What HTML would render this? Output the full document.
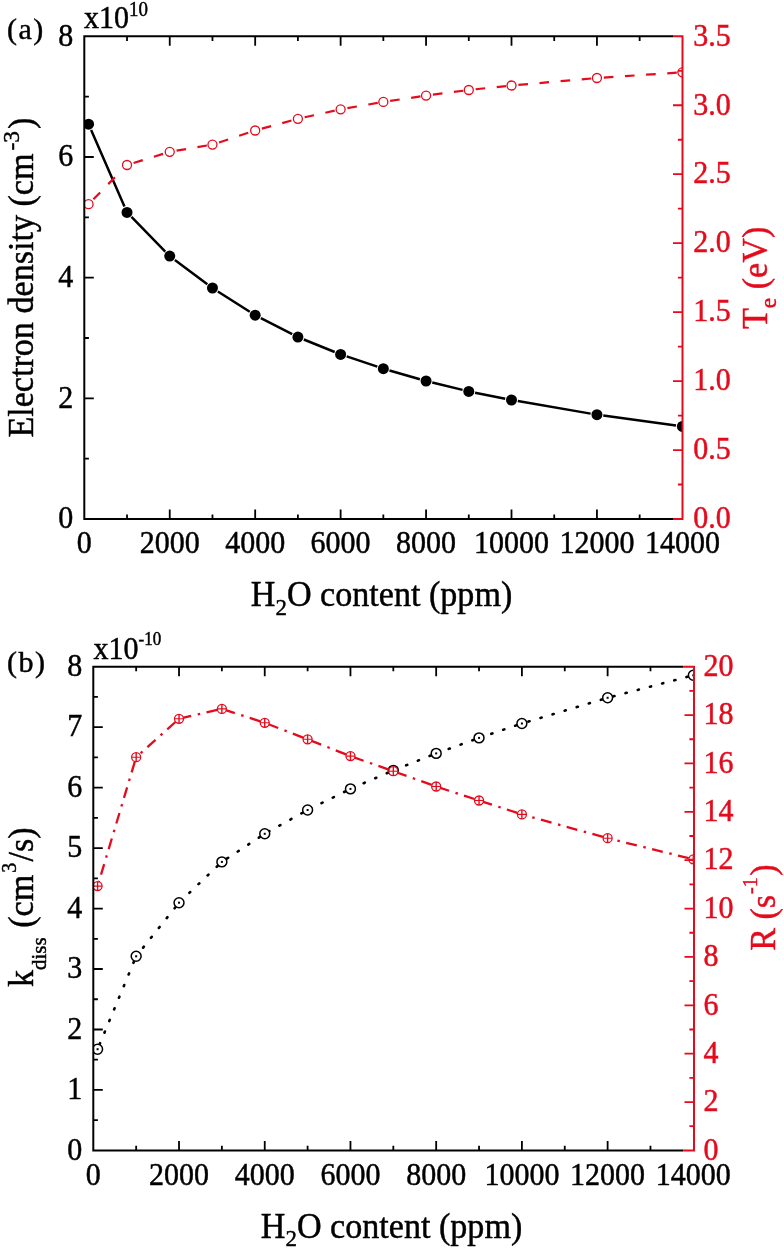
<!DOCTYPE html><html><head><meta charset="utf-8"><style>html,body{margin:0;padding:0;background:#fff;width:784px;height:1252px;overflow:hidden}svg{display:block;will-change:transform}text{stroke-width:0.45px}</style></head><body><svg width="784" height="1252" viewBox="0 0 784 1252" font-family="'Liberation Serif', serif">
<defs><clipPath id="clipA"><rect x="84.3" y="36.3" width="597.7" height="482.7"/></clipPath><clipPath id="clipB"><rect x="93.3" y="666.7" width="600.2" height="483.70000000000005"/></clipPath></defs>
<rect width="784" height="1252" fill="#fff"/>
<g clip-path="url(#clipA)">
<path d="M91.13 130.07L124.46 206.53M131.49 216.98L165.27 251.52M174.87 259.93L207.33 284.17M217.86 291.44L249.78 311.76M260.88 318.12L292.20 334.18M303.83 339.50L334.69 352.00M346.69 356.43L377.27 366.67M389.49 370.47L419.91 379.23M432.28 382.51L462.56 389.89M475.05 392.66L505.23 398.74M517.81 401.09L590.63 413.61M603.28 415.57L676.04 425.53" stroke="#000" stroke-width="2.5" fill="none"/>
<circle cx="88.57" cy="124.20" r="5.5" fill="#000"/>
<circle cx="127.02" cy="212.40" r="5.5" fill="#000"/>
<circle cx="169.74" cy="256.10" r="5.5" fill="#000"/>
<circle cx="212.46" cy="288.00" r="5.5" fill="#000"/>
<circle cx="255.18" cy="315.20" r="5.5" fill="#000"/>
<circle cx="297.90" cy="337.10" r="5.5" fill="#000"/>
<circle cx="340.62" cy="354.40" r="5.5" fill="#000"/>
<circle cx="383.34" cy="368.70" r="5.5" fill="#000"/>
<circle cx="426.06" cy="381.00" r="5.5" fill="#000"/>
<circle cx="468.78" cy="391.40" r="5.5" fill="#000"/>
<circle cx="511.50" cy="400.00" r="5.5" fill="#000"/>
<circle cx="596.94" cy="414.70" r="5.5" fill="#000"/>
<circle cx="682.38" cy="426.40" r="5.5" fill="#000"/>
<path d="M93.40 199.27L100.13 192.42M108.25 184.14L114.97 177.29M123.09 169.00L123.10 169.00M133.61 162.96L142.78 160.13M153.87 156.70L163.04 153.87M176.54 150.65L186.01 149.06M197.45 147.13L206.92 145.53M219.01 142.44L228.13 139.43M239.14 135.79L248.26 132.78M261.83 128.68L271.09 126.14M282.28 123.08L291.54 120.54M304.64 117.30L314.01 115.22M325.33 112.70L334.70 110.62M347.42 108.12L356.88 106.48M368.31 104.50L377.77 102.87M390.17 100.89L399.66 99.49M411.14 97.80L420.52 96.42M432.90 94.70L442.42 93.46M453.92 91.95L463.23 90.73M475.64 89.28L485.19 88.27M496.73 87.06L505.93 86.09M518.37 84.90L527.94 84.06M539.49 83.04L549.06 82.20M560.61 81.19L570.17 80.35M581.73 79.34L591.29 78.50M603.82 77.54L613.40 76.90M624.98 76.13L634.56 75.49M646.13 74.72L655.71 74.08M667.28 73.31L676.79 72.67" stroke="#e30b1c" stroke-width="2.2" fill="none"/>
<circle cx="88.57" cy="204.20" r="4.5" fill="#fff" stroke="#e30b1c" stroke-width="1.3"/>
<circle cx="127.02" cy="165.00" r="4.5" fill="#fff" stroke="#e30b1c" stroke-width="1.3"/>
<circle cx="169.74" cy="151.80" r="4.5" fill="#fff" stroke="#e30b1c" stroke-width="1.3"/>
<circle cx="212.46" cy="144.60" r="4.5" fill="#fff" stroke="#e30b1c" stroke-width="1.3"/>
<circle cx="255.18" cy="130.50" r="4.5" fill="#fff" stroke="#e30b1c" stroke-width="1.3"/>
<circle cx="297.90" cy="118.80" r="4.5" fill="#fff" stroke="#e30b1c" stroke-width="1.3"/>
<circle cx="340.62" cy="109.30" r="4.5" fill="#fff" stroke="#e30b1c" stroke-width="1.3"/>
<circle cx="383.34" cy="101.90" r="4.5" fill="#fff" stroke="#e30b1c" stroke-width="1.3"/>
<circle cx="426.06" cy="95.60" r="4.5" fill="#fff" stroke="#e30b1c" stroke-width="1.3"/>
<circle cx="468.78" cy="90.00" r="4.5" fill="#fff" stroke="#e30b1c" stroke-width="1.3"/>
<circle cx="511.50" cy="85.50" r="4.5" fill="#fff" stroke="#e30b1c" stroke-width="1.3"/>
<circle cx="596.94" cy="78.00" r="4.5" fill="#fff" stroke="#e30b1c" stroke-width="1.3"/>
<circle cx="682.38" cy="72.30" r="4.5" fill="#fff" stroke="#e30b1c" stroke-width="1.3"/>
</g>
<path d="M84.3 36.3V519.0M83.3 519.0H673.0M83.3 36.3H673.0" stroke="#000" stroke-width="2" fill="none"/>
<path d="M673.0 519.0H682.5V36.3H673.0" stroke="#e30b1c" stroke-width="2" fill="none"/>
<path d="M127.02 519.0V514.4M127.02 36.3V40.9M169.74 519.0V509.5M169.74 36.3V45.8M212.46 519.0V514.4M212.46 36.3V40.9M255.18 519.0V509.5M255.18 36.3V45.8M297.90 519.0V514.4M297.90 36.3V40.9M340.62 519.0V509.5M340.62 36.3V45.8M383.34 519.0V514.4M383.34 36.3V40.9M426.06 519.0V509.5M426.06 36.3V45.8M468.78 519.0V514.4M468.78 36.3V40.9M511.50 519.0V509.5M511.50 36.3V45.8M554.22 519.0V514.4M554.22 36.3V40.9M596.94 519.0V509.5M596.94 36.3V45.8M639.66 519.0V514.4M639.66 36.3V40.9" stroke="#000" stroke-width="1.8" fill="none"/>
<path d="M84.3 458.66H88.89999999999999M84.3 398.32H93.8M84.3 337.99H88.89999999999999M84.3 277.65H93.8M84.3 217.31H88.89999999999999M84.3 156.98H93.8M84.3 96.64H88.89999999999999" stroke="#000" stroke-width="1.8" fill="none"/>
<path d="M682.5 484.52H677.9M682.5 450.04H673.0M682.5 415.56H677.9M682.5 381.09H673.0M682.5 346.61H677.9M682.5 312.13H673.0M682.5 277.65H677.9M682.5 243.17H673.0M682.5 208.69H677.9M682.5 174.21H673.0M682.5 139.74H677.9M682.5 105.26H673.0M682.5 70.78H677.9" stroke="#e30b1c" stroke-width="1.8" fill="none"/>
<g clip-path="url(#clipB)">
<path d="M133.90 961.75L133.44 962.86M129.07 973.39L128.61 974.49M124.23 985.02L123.77 986.13M119.40 996.66L118.94 997.77M114.57 1008.30L114.11 1009.40M109.74 1019.93L109.28 1021.04M104.91 1031.57L104.45 1032.68M100.07 1043.21L99.61 1044.31M175.34 907.31L174.59 908.25M167.47 917.15L166.72 918.09M159.60 926.99L158.85 927.93M151.73 936.83L150.98 937.77M143.86 946.67L143.11 947.61M217.61 865.97L216.74 866.80M208.48 874.66L207.61 875.48M199.35 883.34L198.49 884.17M190.23 892.03L189.36 892.86M181.10 900.72L180.23 901.55M259.81 837.03L258.80 837.69M249.27 843.94L248.27 844.60M238.73 850.85L237.73 851.51M228.19 857.76L227.19 858.42M302.44 812.86L301.39 813.45M291.43 818.98L290.38 819.56M280.41 825.10L279.36 825.68M269.40 831.22L268.35 831.80M345.17 791.51L344.09 792.04M333.86 797.07L332.79 797.60M322.56 802.64L321.48 803.17M311.25 808.20L310.18 808.73M387.90 772.74L386.80 773.21M376.33 777.73L375.23 778.21M364.77 782.72L363.66 783.20M353.20 787.72L352.10 788.19M430.70 755.58L429.58 756.02M418.98 760.22L417.87 760.66M407.27 764.87L406.16 765.31M395.56 769.51L394.44 769.95M473.49 739.91L472.36 740.31M461.64 744.19L460.51 744.60M449.79 748.48L448.67 748.88M437.94 752.76L436.82 753.17M516.31 725.38L515.17 725.76M504.36 729.39L503.23 729.77M492.42 733.40L491.28 733.79M480.48 737.42L479.34 737.80M601.97 699.49L600.82 699.84M589.90 703.11L588.75 703.46M577.83 706.73L576.68 707.08M565.76 710.35L564.61 710.69M553.69 713.97L552.54 714.31M541.62 717.59L540.47 717.93M529.55 721.21L528.40 721.55M687.63 676.80L686.47 677.10M675.45 680.00L674.29 680.30M663.26 683.20L662.10 683.50M651.07 686.39L649.91 686.70M638.88 689.59L637.72 689.90M626.70 692.79L625.54 693.10M614.51 695.99L613.35 696.30" stroke="#000" stroke-width="2.6" stroke-linecap="round" fill="none"/>
<circle cx="97.59" cy="1049.20" r="4.95" fill="#fff" stroke="#000" stroke-width="1.5"/>
<rect x="96.59" y="1048.20" width="2" height="2" fill="#000"/>
<circle cx="136.16" cy="956.30" r="4.95" fill="#fff" stroke="#000" stroke-width="1.5"/>
<rect x="135.16" y="955.30" width="2" height="2" fill="#000"/>
<circle cx="179.02" cy="902.70" r="4.95" fill="#fff" stroke="#000" stroke-width="1.5"/>
<rect x="178.02" y="901.70" width="2" height="2" fill="#000"/>
<circle cx="221.88" cy="861.90" r="4.95" fill="#fff" stroke="#000" stroke-width="1.5"/>
<rect x="220.88" y="860.90" width="2" height="2" fill="#000"/>
<circle cx="264.74" cy="833.80" r="4.95" fill="#fff" stroke="#000" stroke-width="1.5"/>
<rect x="263.74" y="832.80" width="2" height="2" fill="#000"/>
<circle cx="307.60" cy="810.00" r="4.95" fill="#fff" stroke="#000" stroke-width="1.5"/>
<rect x="306.60" y="809.00" width="2" height="2" fill="#000"/>
<circle cx="350.46" cy="788.90" r="4.95" fill="#fff" stroke="#000" stroke-width="1.5"/>
<rect x="349.46" y="787.90" width="2" height="2" fill="#000"/>
<circle cx="393.32" cy="770.40" r="4.95" fill="#fff" stroke="#000" stroke-width="1.5"/>
<rect x="392.32" y="769.40" width="2" height="2" fill="#000"/>
<circle cx="436.18" cy="753.40" r="4.95" fill="#fff" stroke="#000" stroke-width="1.5"/>
<rect x="435.18" y="752.40" width="2" height="2" fill="#000"/>
<circle cx="479.04" cy="737.90" r="4.95" fill="#fff" stroke="#000" stroke-width="1.5"/>
<rect x="478.04" y="736.90" width="2" height="2" fill="#000"/>
<circle cx="521.90" cy="723.50" r="4.95" fill="#fff" stroke="#000" stroke-width="1.5"/>
<rect x="520.90" y="722.50" width="2" height="2" fill="#000"/>
<circle cx="607.62" cy="697.80" r="4.95" fill="#fff" stroke="#000" stroke-width="1.5"/>
<rect x="606.62" y="696.80" width="2" height="2" fill="#000"/>
<circle cx="693.34" cy="675.30" r="4.95" fill="#fff" stroke="#000" stroke-width="1.5"/>
<rect x="692.34" y="674.30" width="2" height="2" fill="#000"/>
<path d="M134.78 761.80L131.63 772.34M129.77 778.56L129.05 780.96M127.13 787.38L123.98 797.92M122.11 804.14L121.40 806.54M119.47 812.96L116.32 823.50M114.46 829.72L113.74 832.12M111.82 838.54L108.67 849.07M106.80 855.30L106.09 857.70M104.17 864.12L101.01 874.65M99.15 880.88L98.43 883.28M175.44 722.00L167.25 729.34M162.41 733.68L160.55 735.35M155.56 739.82L147.37 747.16M142.53 751.50L140.66 753.17M217.20 709.98L206.49 712.46M200.15 713.92L197.72 714.48M191.19 715.99L180.47 718.46M260.17 721.32L249.71 717.93M243.53 715.92L241.15 715.15M234.78 713.08L224.31 709.69M303.12 737.58L292.85 733.62M286.79 731.29L284.46 730.39M278.20 727.98L267.94 724.03M345.99 754.35L335.75 750.33M329.70 747.96L327.37 747.05M321.13 744.60L310.89 740.59M388.79 769.61L378.42 765.95M372.29 763.79L369.93 762.96M363.61 760.73L353.23 757.08M431.66 784.89L421.30 781.19M415.18 779.00L412.82 778.16M406.51 775.91L396.15 772.21M474.48 799.01L464.02 795.59M457.84 793.58L455.47 792.80M449.10 790.72L438.64 787.30M517.33 812.92L506.87 809.53M500.69 807.52L498.31 806.75M491.94 804.68L481.47 801.29M602.99 836.92L592.40 833.97M586.13 832.23L583.72 831.57M577.27 829.77L566.67 826.83M560.41 825.09L558.00 824.42M551.54 822.63L540.94 819.69M534.68 817.95L532.27 817.28M525.81 815.49L521.90 814.40M688.68 858.15L678.00 855.52M671.69 853.97L669.26 853.37M662.75 851.77L652.07 849.14M645.76 847.59L643.33 846.99M636.83 845.39L626.15 842.76M619.83 841.21L617.41 840.61M610.90 839.01L607.62 838.20" stroke="#e30b1c" stroke-width="2.3" fill="none"/>
<circle cx="97.59" cy="886.10" r="4.5" fill="#fff" stroke="#e30b1c" stroke-width="1.3"/>
<path d="M93.29 886.10H101.89" stroke="#e30b1c" stroke-width="1.1"/>
<path d="M97.59 881.80V890.40" stroke="#e30b1c" stroke-width="1.4"/>
<circle cx="136.16" cy="757.20" r="4.5" fill="#fff" stroke="#e30b1c" stroke-width="1.3"/>
<path d="M131.86 757.20H140.46" stroke="#e30b1c" stroke-width="1.1"/>
<path d="M136.16 752.90V761.50" stroke="#e30b1c" stroke-width="1.4"/>
<circle cx="179.02" cy="718.80" r="4.5" fill="#fff" stroke="#e30b1c" stroke-width="1.3"/>
<path d="M174.72 718.80H183.32" stroke="#e30b1c" stroke-width="1.1"/>
<path d="M179.02 714.50V723.10" stroke="#e30b1c" stroke-width="1.4"/>
<circle cx="221.88" cy="708.90" r="4.5" fill="#fff" stroke="#e30b1c" stroke-width="1.3"/>
<path d="M217.58 708.90H226.18" stroke="#e30b1c" stroke-width="1.1"/>
<path d="M221.88 704.60V713.20" stroke="#e30b1c" stroke-width="1.4"/>
<circle cx="264.74" cy="722.80" r="4.5" fill="#fff" stroke="#e30b1c" stroke-width="1.3"/>
<path d="M260.44 722.80H269.04" stroke="#e30b1c" stroke-width="1.1"/>
<path d="M264.74 718.50V727.10" stroke="#e30b1c" stroke-width="1.4"/>
<circle cx="307.60" cy="739.30" r="4.5" fill="#fff" stroke="#e30b1c" stroke-width="1.3"/>
<path d="M303.30 739.30H311.90" stroke="#e30b1c" stroke-width="1.1"/>
<path d="M307.60 735.00V743.60" stroke="#e30b1c" stroke-width="1.4"/>
<circle cx="350.46" cy="756.10" r="4.5" fill="#fff" stroke="#e30b1c" stroke-width="1.3"/>
<path d="M346.16 756.10H354.76" stroke="#e30b1c" stroke-width="1.1"/>
<path d="M350.46 751.80V760.40" stroke="#e30b1c" stroke-width="1.4"/>
<circle cx="393.32" cy="771.20" r="4.5" fill="#fff" stroke="#e30b1c" stroke-width="1.3"/>
<path d="M389.02 771.20H397.62" stroke="#e30b1c" stroke-width="1.1"/>
<path d="M393.32 766.90V775.50" stroke="#e30b1c" stroke-width="1.4"/>
<circle cx="436.18" cy="786.50" r="4.5" fill="#fff" stroke="#e30b1c" stroke-width="1.3"/>
<path d="M431.88 786.50H440.48" stroke="#e30b1c" stroke-width="1.1"/>
<path d="M436.18 782.20V790.80" stroke="#e30b1c" stroke-width="1.4"/>
<circle cx="479.04" cy="800.50" r="4.5" fill="#fff" stroke="#e30b1c" stroke-width="1.3"/>
<path d="M474.74 800.50H483.34" stroke="#e30b1c" stroke-width="1.1"/>
<path d="M479.04 796.20V804.80" stroke="#e30b1c" stroke-width="1.4"/>
<circle cx="521.90" cy="814.40" r="4.5" fill="#fff" stroke="#e30b1c" stroke-width="1.3"/>
<path d="M517.60 814.40H526.20" stroke="#e30b1c" stroke-width="1.1"/>
<path d="M521.90 810.10V818.70" stroke="#e30b1c" stroke-width="1.4"/>
<circle cx="607.62" cy="838.20" r="4.5" fill="#fff" stroke="#e30b1c" stroke-width="1.3"/>
<path d="M603.32 838.20H611.92" stroke="#e30b1c" stroke-width="1.1"/>
<path d="M607.62 833.90V842.50" stroke="#e30b1c" stroke-width="1.4"/>
<circle cx="693.34" cy="859.30" r="4.5" fill="#fff" stroke="#e30b1c" stroke-width="1.3"/>
<path d="M689.04 859.30H697.64" stroke="#e30b1c" stroke-width="1.1"/>
<path d="M693.34 855.00V863.60" stroke="#e30b1c" stroke-width="1.4"/>
</g>
<path d="M93.3 666.7V1150.4M92.3 1150.4H683.5M92.3 666.7H683.5" stroke="#000" stroke-width="2" fill="none"/>
<path d="M683.5 1150.4H694.0V666.7H683.5" stroke="#e30b1c" stroke-width="2" fill="none"/>
<path d="M136.16 1150.4V1145.8000000000002M136.16 666.7V671.3000000000001M179.02 1150.4V1140.9M179.02 666.7V676.2M221.88 1150.4V1145.8000000000002M221.88 666.7V671.3000000000001M264.74 1150.4V1140.9M264.74 666.7V676.2M307.60 1150.4V1145.8000000000002M307.60 666.7V671.3000000000001M350.46 1150.4V1140.9M350.46 666.7V676.2M393.32 1150.4V1145.8000000000002M393.32 666.7V671.3000000000001M436.18 1150.4V1140.9M436.18 666.7V676.2M479.04 1150.4V1145.8000000000002M479.04 666.7V671.3000000000001M521.90 1150.4V1140.9M521.90 666.7V676.2M564.76 1150.4V1145.8000000000002M564.76 666.7V671.3000000000001M607.62 1150.4V1140.9M607.62 666.7V676.2M650.48 1150.4V1145.8000000000002M650.48 666.7V671.3000000000001" stroke="#000" stroke-width="1.8" fill="none"/>
<path d="M93.3 1120.17H97.89999999999999M93.3 1089.94H102.8M93.3 1059.71H97.89999999999999M93.3 1029.48H102.8M93.3 999.24H97.89999999999999M93.3 969.01H102.8M93.3 938.78H97.89999999999999M93.3 908.55H102.8M93.3 878.32H97.89999999999999M93.3 848.09H102.8M93.3 817.86H97.89999999999999M93.3 787.62H102.8M93.3 757.39H97.89999999999999M93.3 727.16H102.8M93.3 696.93H97.89999999999999" stroke="#000" stroke-width="1.8" fill="none"/>
<path d="M694.0 1126.22H689.4M694.0 1102.03H684.5M694.0 1077.85H689.4M694.0 1053.66H684.5M694.0 1029.48H689.4M694.0 1005.29H684.5M694.0 981.11H689.4M694.0 956.92H684.5M694.0 932.74H689.4M694.0 908.55H684.5M694.0 884.37H689.4M694.0 860.18H684.5M694.0 836.00H689.4M694.0 811.81H684.5M694.0 787.62H689.4M694.0 763.44H684.5M694.0 739.25H689.4M694.0 715.07H684.5M694.0 690.88H689.4" stroke="#e30b1c" stroke-width="1.8" fill="none"/>
<text transform="translate(73.3 528.2) scale(1 1.06)" font-size="30" fill="#000" stroke="#000" text-anchor="end" >0</text>
<text transform="translate(73.3 407.5) scale(1 1.06)" font-size="30" fill="#000" stroke="#000" text-anchor="end" >2</text>
<text transform="translate(73.3 286.8) scale(1 1.06)" font-size="30" fill="#000" stroke="#000" text-anchor="end" >4</text>
<text transform="translate(73.3 166.2) scale(1 1.06)" font-size="30" fill="#000" stroke="#000" text-anchor="end" >6</text>
<text transform="translate(73.3 45.5) scale(1 1.06)" font-size="30" fill="#000" stroke="#000" text-anchor="end" >8</text>
<text transform="translate(693.3 528.2) scale(1 1.06)" font-size="30" fill="#e30b1c" stroke="#e30b1c" text-anchor="start" >0.0</text>
<text transform="translate(693.3 459.2) scale(1 1.06)" font-size="30" fill="#e30b1c" stroke="#e30b1c" text-anchor="start" >0.5</text>
<text transform="translate(693.3 390.3) scale(1 1.06)" font-size="30" fill="#e30b1c" stroke="#e30b1c" text-anchor="start" >1.0</text>
<text transform="translate(693.3 321.3) scale(1 1.06)" font-size="30" fill="#e30b1c" stroke="#e30b1c" text-anchor="start" >1.5</text>
<text transform="translate(693.3 252.4) scale(1 1.06)" font-size="30" fill="#e30b1c" stroke="#e30b1c" text-anchor="start" >2.0</text>
<text transform="translate(693.3 183.4) scale(1 1.06)" font-size="30" fill="#e30b1c" stroke="#e30b1c" text-anchor="start" >2.5</text>
<text transform="translate(693.3 114.5) scale(1 1.06)" font-size="30" fill="#e30b1c" stroke="#e30b1c" text-anchor="start" >3.0</text>
<text transform="translate(693.3 45.5) scale(1 1.06)" font-size="30" fill="#e30b1c" stroke="#e30b1c" text-anchor="start" >3.5</text>
<text transform="translate(84.3 552.9) scale(1 1.06)" font-size="30" fill="#000" stroke="#000" text-anchor="middle" >0</text>
<text transform="translate(169.7 552.9) scale(1 1.06)" font-size="30" fill="#000" stroke="#000" text-anchor="middle" >2000</text>
<text transform="translate(255.2 552.9) scale(1 1.06)" font-size="30" fill="#000" stroke="#000" text-anchor="middle" >4000</text>
<text transform="translate(340.6 552.9) scale(1 1.06)" font-size="30" fill="#000" stroke="#000" text-anchor="middle" >6000</text>
<text transform="translate(426.1 552.9) scale(1 1.06)" font-size="30" fill="#000" stroke="#000" text-anchor="middle" >8000</text>
<text transform="translate(511.5 552.9) scale(1 1.06)" font-size="30" fill="#000" stroke="#000" text-anchor="middle" >10000</text>
<text transform="translate(596.9 552.9) scale(1 1.06)" font-size="30" fill="#000" stroke="#000" text-anchor="middle" >12000</text>
<text transform="translate(682.4 552.9) scale(1 1.06)" font-size="30" fill="#000" stroke="#000" text-anchor="middle" >14000</text>
<text transform="translate(82.3 1159.6) scale(1 1.06)" font-size="30" fill="#000" stroke="#000" text-anchor="end" >0</text>
<text transform="translate(82.3 1099.1) scale(1 1.06)" font-size="30" fill="#000" stroke="#000" text-anchor="end" >1</text>
<text transform="translate(82.3 1038.7) scale(1 1.06)" font-size="30" fill="#000" stroke="#000" text-anchor="end" >2</text>
<text transform="translate(82.3 978.2) scale(1 1.06)" font-size="30" fill="#000" stroke="#000" text-anchor="end" >3</text>
<text transform="translate(82.3 917.8) scale(1 1.06)" font-size="30" fill="#000" stroke="#000" text-anchor="end" >4</text>
<text transform="translate(82.3 857.3) scale(1 1.06)" font-size="30" fill="#000" stroke="#000" text-anchor="end" >5</text>
<text transform="translate(82.3 796.8) scale(1 1.06)" font-size="30" fill="#000" stroke="#000" text-anchor="end" >6</text>
<text transform="translate(82.3 736.4) scale(1 1.06)" font-size="30" fill="#000" stroke="#000" text-anchor="end" >7</text>
<text transform="translate(82.3 675.9) scale(1 1.06)" font-size="30" fill="#000" stroke="#000" text-anchor="end" >8</text>
<text transform="translate(703.5 1159.6) scale(1 1.06)" font-size="30" fill="#e30b1c" stroke="#e30b1c" text-anchor="start" >0</text>
<text transform="translate(703.5 1111.2) scale(1 1.06)" font-size="30" fill="#e30b1c" stroke="#e30b1c" text-anchor="start" >2</text>
<text transform="translate(703.5 1062.9) scale(1 1.06)" font-size="30" fill="#e30b1c" stroke="#e30b1c" text-anchor="start" >4</text>
<text transform="translate(703.5 1014.5) scale(1 1.06)" font-size="30" fill="#e30b1c" stroke="#e30b1c" text-anchor="start" >6</text>
<text transform="translate(703.5 966.1) scale(1 1.06)" font-size="30" fill="#e30b1c" stroke="#e30b1c" text-anchor="start" >8</text>
<text transform="translate(703.5 917.8) scale(1 1.06)" font-size="30" fill="#e30b1c" stroke="#e30b1c" text-anchor="start" >10</text>
<text transform="translate(703.5 869.4) scale(1 1.06)" font-size="30" fill="#e30b1c" stroke="#e30b1c" text-anchor="start" >12</text>
<text transform="translate(703.5 821.0) scale(1 1.06)" font-size="30" fill="#e30b1c" stroke="#e30b1c" text-anchor="start" >14</text>
<text transform="translate(703.5 772.6) scale(1 1.06)" font-size="30" fill="#e30b1c" stroke="#e30b1c" text-anchor="start" >16</text>
<text transform="translate(703.5 724.3) scale(1 1.06)" font-size="30" fill="#e30b1c" stroke="#e30b1c" text-anchor="start" >18</text>
<text transform="translate(703.5 675.9) scale(1 1.06)" font-size="30" fill="#e30b1c" stroke="#e30b1c" text-anchor="start" >20</text>
<text transform="translate(93.3 1184.8) scale(1 1.06)" font-size="30" fill="#000" stroke="#000" text-anchor="middle" >0</text>
<text transform="translate(179.0 1184.8) scale(1 1.06)" font-size="30" fill="#000" stroke="#000" text-anchor="middle" >2000</text>
<text transform="translate(264.7 1184.8) scale(1 1.06)" font-size="30" fill="#000" stroke="#000" text-anchor="middle" >4000</text>
<text transform="translate(350.5 1184.8) scale(1 1.06)" font-size="30" fill="#000" stroke="#000" text-anchor="middle" >6000</text>
<text transform="translate(436.2 1184.8) scale(1 1.06)" font-size="30" fill="#000" stroke="#000" text-anchor="middle" >8000</text>
<text transform="translate(521.9 1184.8) scale(1 1.06)" font-size="30" fill="#000" stroke="#000" text-anchor="middle" >10000</text>
<text transform="translate(607.6 1184.8) scale(1 1.06)" font-size="30" fill="#000" stroke="#000" text-anchor="middle" >12000</text>
<text transform="translate(693.3 1184.8) scale(1 1.06)" font-size="30" fill="#000" stroke="#000" text-anchor="middle" >14000</text>
<text x="7" y="38.5" font-size="30" fill="#000" stroke="#000" text-anchor="start" letter-spacing="1.5">(a)</text>
<text x="7" y="672" font-size="30" fill="#000" stroke="#000" text-anchor="start" letter-spacing="1.5">(b)</text>
<text transform="translate(84 27.6) scale(1 1.06)" font-size="30" stroke="#000">x10<tspan dy="-11.2" font-size="19">10</tspan></text>
<text transform="translate(93.5 659) scale(1 1.06)" font-size="30" stroke="#000">x10<tspan dy="-13.6" font-size="17">-10</tspan></text>
<text transform="translate(33.2 437.6) rotate(-90) scale(0.975 1)" font-size="35" fill="#000" stroke="#000">Electron density (cm<tspan dx="3" dy="-14" font-size="24">-3</tspan><tspan dx="2" dy="14">)</tspan></text>
<text transform="translate(766.9 329.0) rotate(-90) scale(0.975 1)" font-size="35" fill="#e30b1c" stroke="#e30b1c">T<tspan dy="9" font-size="24">e</tspan><tspan dy="-9"> (eV)</tspan></text>
<text transform="translate(250.8 605.8) scale(0.975 1)" font-size="35" fill="#000" stroke="#000">H<tspan dy="8.8" font-size="23.5">2</tspan><tspan dy="-8.8">O content (ppm)</tspan></text>
<text transform="translate(260.8 1237.5) scale(0.975 1)" font-size="35" fill="#000" stroke="#000">H<tspan dy="8.8" font-size="23.5">2</tspan><tspan dy="-8.8">O content (ppm)</tspan></text>
<text transform="translate(33.3 987) rotate(-90) scale(0.975 1)" font-size="35" fill="#000" stroke="#000">k<tspan dy="12.5" font-size="21.5">diss</tspan><tspan dy="-12.5" dx="1"> (cm</tspan><tspan dx="2" dy="-17.5" font-size="20.5">3</tspan><tspan dx="1.5" dy="17.5">/s)</tspan></text>
<text transform="translate(774.5 950.8) rotate(-90) scale(0.975 1)" font-size="35" fill="#e30b1c" stroke="#e30b1c">R (s<tspan dx="1" dy="-17.3" font-size="20.5">-1</tspan><tspan dx="1.5" dy="17.3">)</tspan></text>
</svg></body></html>
